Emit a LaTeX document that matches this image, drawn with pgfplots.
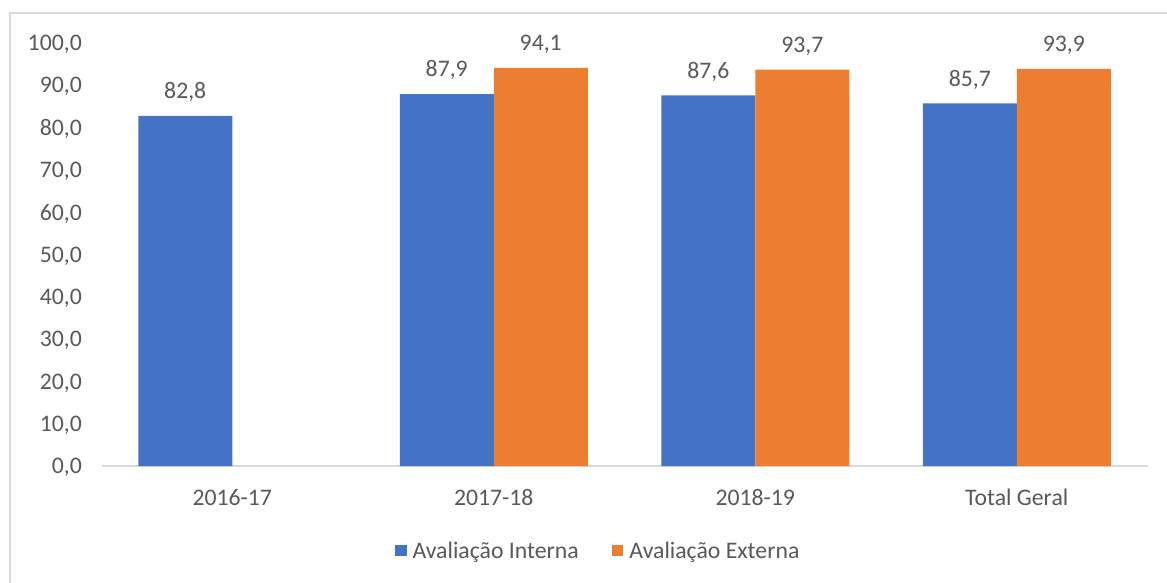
\documentclass[border=0pt]{standalone}
\usepackage{fontspec}
\setmainfont{Carlito}
\usepackage{pgfplots}
\pgfplotsset{compat=1.18}
\definecolor{cblue}{HTML}{4472C4}
\definecolor{corange}{HTML}{ED7D31}
\definecolor{ctext}{HTML}{595959}
\definecolor{cline}{HTML}{D9D9D9}
\begin{document}
\begin{tikzpicture}[x=0.75pt,y=0.75pt]
\useasboundingbox (0,0) rectangle (1167,582);
\draw[cline,line width=1.5pt] (10,-20) -- (10,569) -- (1190,569);
\begin{axis}[
  at={(76.125pt,87pt)}, anchor=south west,
  scale only axis, width=784.5pt, height=317.25pt,
  xmin=-0.5, xmax=3.5, ymin=0, ymax=100,
  ybar=0pt, bar width=70.5pt,
  axis y line*=left, axis x line*=bottom,
  y axis line style={draw=none},
  x axis line style={cline,line width=1.5pt,-},
  xtick=data, xticklabels={2016-17,2017-18,2018-19,Total Geral},
  major tick length=0pt,
  ytick={0,10,...,100},
  font=\fontsize{17.8}{21}\selectfont,
  /pgf/number format/.cd, use comma, fixed, fixed zerofill, precision=1, assume math mode=true,
  /pgfplots/.cd,
  xticklabel style={anchor=center, yshift=-23.25pt, text=ctext, text depth=0pt},
  yticklabel style={anchor=east, inner sep=0pt, xshift=-14.6pt, text=ctext, text depth=0pt},
  nodes near coords,
  nodes near coords style={anchor=center, yshift=19pt, text=ctext, text depth=0pt, font=\fontsize{17.8}{21}\selectfont},
  legend style={at={(0.474,-0.201)}, anchor=center, draw=none, legend columns=2,
    /tikz/every even column/.append style={column sep=25pt},
    nodes={inner sep=0pt, text=ctext, font=\fontsize{17.8}{21}\selectfont}},
  legend image code/.code={\draw[#1, draw=none] (0pt,-4pt) rectangle (8.5pt,4.5pt); \path (13pt,0pt);},
  clip=false,
]
\addplot[fill=cblue, draw=none] coordinates {(0,82.8) (1,87.9) (2,87.6) (3,85.7)};
\addplot[fill=corange, draw=none] coordinates {(1,94.1) (2,93.7) (3,93.9)};
\legend{Avaliação Interna, Avaliação Externa}
\end{axis}
\end{tikzpicture}
\end{document}
